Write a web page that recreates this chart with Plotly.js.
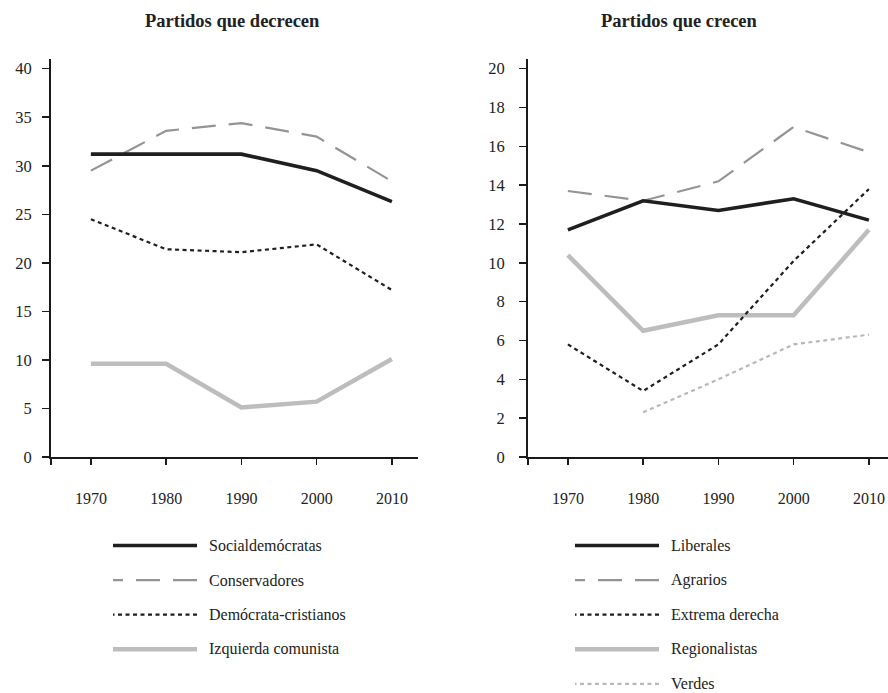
<!DOCTYPE html>
<html>
<head>
<meta charset="utf-8">
<script src="https://cdn.plot.ly/plotly-3.0.1.min.js"></script>
<style>html,body{margin:0;padding:0;background:#fff;}#chart{width:888px;height:693px;}</style>
</head>
<body>
<div id="chart"></div>
<script>
// ---- data ----
const years = [1970, 1980, 1990, 2000, 2010];
const yearLabels = ["1970", "1980", "1990", "2000", "2010"];

const titleLeft = "Partidos que decrecen";
const titleRight = "Partidos que crecen";

const leftNames = ["Socialdemócratas", "Conservadores", "Demócrata-cristianos", "Izquierda comunista"];
const socialdemocratas = [31.2, 31.2, 31.2, 29.5, 26.3];
const conservadores = [29.5, 33.6, 34.4, 33.0, 28.4];
const democristianos = [24.5, 21.4, 21.1, 21.9, 17.2];
const izquierdaComunista = [9.6, 9.6, 5.1, 5.7, 10.1];

const rightNames = ["Liberales", "Agrarios", "Extrema derecha", "Regionalistas", "Verdes"];
const liberales = [11.7, 13.2, 12.7, 13.3, 12.2];
const agrarios = [13.7, 13.2, 14.2, 17.0, 15.7];
const extremaDerecha = [5.8, 3.4, 5.8, 10.1, 13.8];
const regionalistas = [10.4, 6.5, 7.3, 7.3, 11.7];
const verdes = [null, 2.3, 4.0, 5.8, 6.3];

const leftTicks = [0, 5, 10, 15, 20, 25, 30, 35, 40];
const rightTicks = [0, 2, 4, 6, 8, 10, 12, 14, 16, 18, 20];

// ---- styles ----
const sSolidDark = {color: "#1f1f1f", width: 3.6, dash: "solid"};
const sDashGray = {color: "#949494", width: 2.2, dash: "24px,13px"};
const sDotDark = {color: "#1f1f1f", width: 2.2, dash: "4px,3.5px"};
const sSolidLight = {color: "#bdbdbd", width: 4.5, dash: "solid"};
const sDotLight = {color: "#b8b8b8", width: 2.2, dash: "4px,3.5px"};

const leftSeries = [socialdemocratas, conservadores, democristianos, izquierdaComunista];
const leftStyles = [sSolidDark, sDashGray, sDotDark, sSolidLight];
const rightSeries = [liberales, agrarios, extremaDerecha, regionalistas, verdes];
const rightStyles = [sSolidDark, sDashGray, sDotDark, sSolidLight, sDotLight];

const W = 888, H = 693;
const px = x => x / W;
const py = y => 1 - y / H;
const FONT = "'Liberation Serif', 'DejaVu Serif', serif";
const TXT = "#222";

const traces = [];
// draw in reverse so dark lines are on top
for (let i = leftSeries.length - 1; i >= 0; i--) {
  traces.push({x: years, y: leftSeries[i], name: leftNames[i], type: "scatter", mode: "lines",
    line: leftStyles[i], xaxis: "x", yaxis: "y", showlegend: false, hoverinfo: "x+y+name"});
}
for (let i = rightSeries.length - 1; i >= 0; i--) {
  traces.push({x: years, y: rightSeries[i], name: rightNames[i], type: "scatter", mode: "lines",
    line: rightStyles[i], xaxis: "x2", yaxis: "y2", showlegend: false, connectgaps: false, hoverinfo: "x+y+name"});
}

const xStart = 1964.7;
const pxPerYear = 7.525;
const leftX0 = 51, leftX1 = 418, rightX0 = 528, rightX1 = 888;
const yTop = 59, yBottom = 457;

function xAxis(x0, x1) {
  return {
    domain: [px(x0), px(x1)],
    range: [xStart, xStart + (x1 - x0) / pxPerYear],
    tickvals: [xStart].concat(years),
    ticktext: [""].concat(yearLabels),
    ticks: "outside", ticklen: 6, tickwidth: 1.5, tickcolor: "#1a1a1a",
    showline: true, linecolor: "#1a1a1a", linewidth: 2,
    showgrid: false, zeroline: false,
    ticklabelstandoff: 20,
    tickfont: {family: FONT, size: 16, color: TXT},
    fixedrange: true
  };
}
function yAxis(maxv, ticks, anchor, standoff) {
  return {
    domain: [py(yBottom), py(yTop)],
    range: [0, maxv],
    tickvals: ticks,
    ticks: "outside", ticklen: 7, tickwidth: 1.5, tickcolor: "#1a1a1a",
    showline: true, linecolor: "#1a1a1a", linewidth: 2,
    showgrid: false, zeroline: false,
    anchor: anchor,
    ticklabelstandoff: standoff,
    tickfont: {family: FONT, size: 16.5, color: TXT},
    fixedrange: true
  };
}

const annotations = [
  {text: "<b>" + titleLeft + "</b>", x: px(232), y: py(21), xref: "paper", yref: "paper",
   xanchor: "center", yanchor: "middle", showarrow: false, font: {family: FONT, size: 18.5, color: TXT}},
  {text: "<b>" + titleRight + "</b>", x: px(679), y: py(21), xref: "paper", yref: "paper",
   xanchor: "center", yanchor: "middle", showarrow: false, font: {family: FONT, size: 18.5, color: TXT}}
];
const shapes = [];
const rowY0 = 545.5, rowStep = 34.6;
function addLegend(names, styles, lx0, lx1, tx) {
  names.forEach((n, i) => {
    const y = rowY0 + i * rowStep;
    shapes.push({type: "line", xref: "paper", yref: "paper", x0: px(lx1), x1: px(lx0), y0: py(y), y1: py(y),
      line: {color: styles[i].color, width: styles[i].width, dash: styles[i].dash}});
    annotations.push({text: n, x: px(tx), y: py(y), xref: "paper", yref: "paper", xanchor: "left", yanchor: "middle",
      showarrow: false, borderpad: 0, font: {family: FONT, size: 16, color: TXT}});
  });
}
addLegend(leftNames, leftStyles, 113, 197, 208);
addLegend(rightNames, rightStyles, 575, 659, 670);

const layout = {
  width: W, height: H,
  margin: {l: 0, r: 0, t: 0, b: 0, pad: 0},
  paper_bgcolor: "#fff", plot_bgcolor: "#fff",
  showlegend: false,
  font: {family: FONT, color: TXT},
  xaxis: xAxis(leftX0, leftX1),
  yaxis: yAxis(41, leftTicks, "x", 7),
  xaxis2: Object.assign(xAxis(rightX0, rightX1), {anchor: "y2"}),
  yaxis2: yAxis(20.5, rightTicks, "x2", 11),
  annotations: annotations,
  shapes: shapes
};
layout.xaxis.anchor = "y";

Plotly.newPlot("chart", traces, layout, {displayModeBar: false, staticPlot: true});
</script>
</body>
</html>
